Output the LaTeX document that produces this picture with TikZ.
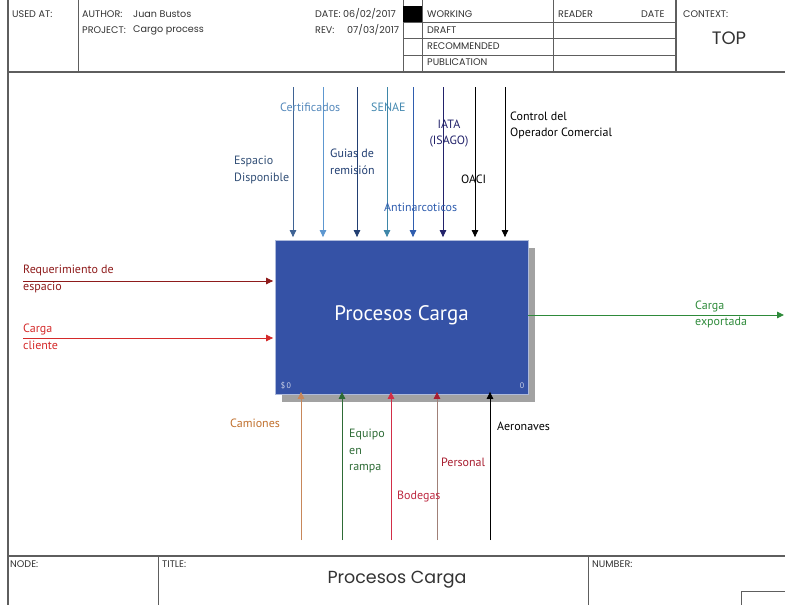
\documentclass[tikz,border=0pt]{standalone}
\usepackage{fontspec}
\setmainfont{PT Sans}
\newfontfamily\formfont{Poppins}
\usetikzlibrary{arrows.meta,shadows}

\definecolor{frame}{HTML}{5E5E5E}
\definecolor{formtext}{HTML}{333333}
\definecolor{procblue}{HTML}{3552A6}
\definecolor{shadowgray}{HTML}{A2A2A2}
% controls (top)
\definecolor{cEsp}{HTML}{3F6394}
\definecolor{cCert}{HTML}{5D97D0}
\definecolor{cGuia}{HTML}{223F72}
\definecolor{cSenae}{HTML}{3E86A8}
\definecolor{cAnti}{HTML}{2F5DAE}
\definecolor{cIata}{HTML}{22226A}
% inputs / outputs
\definecolor{cReq}{HTML}{8E1B1B}
\definecolor{cCli}{HTML}{D42A2A}
\definecolor{cExp}{HTML}{2E8A3A}
% mechanisms (bottom)
\definecolor{cCam}{HTML}{C8875A}
\definecolor{cCamT}{HTML}{C0702E}
\definecolor{cEqu}{HTML}{2E6B36}
\definecolor{cBod}{HTML}{D22E48}
\definecolor{cPerL}{HTML}{A08078}
\definecolor{cPer}{HTML}{A81E30}

\tikzset{
  formline/.style={draw=frame, line width=1.1pt},
  thinline/.style={draw=frame, line width=0.8pt},
  formlbl/.style={font=\formfont\fontsize{9.6}{11}\selectfont, text=formtext, anchor=west, inner sep=0pt},
  footlbl/.style={formlbl, font=\formfont\fontsize{9.6}{11}\selectfont},
  flow/.style={-{Triangle[length=7pt,width=6.5pt]}, line width=0.9pt},
  lbl/.style={font=\fontsize{12}{16.8}\selectfont, anchor=west, align=left, inner sep=0pt},
  procbox/.style={fill=procblue, draw=procblue!40!white, line width=0.8pt,
    minimum width=253pt, minimum height=154pt, inner sep=0pt,
    text=white, font=\fontsize{21}{24}\selectfont,
    drop shadow={shadow xshift=7pt, shadow yshift=-8pt, fill=shadowgray, opacity=1}},
  corner/.style={font=\fontsize{8}{9}\selectfont, text=procblue!25!white, inner sep=0pt}
}

\begin{document}
\begin{tikzpicture}[x=1pt,y=-1pt]
\useasboundingbox (0,0) rectangle (785,605);

% ---------- form frame ----------
\draw[formline] (8,0) -- (8,605);
\draw[formline] (8,72) -- (785,72);
\draw[formline] (8,556) -- (785,556);
\draw[thinline] (78,0) -- (78,72);
\draw[thinline] (403,0) -- (403,72);
\draw[thinline] (422,0) -- (422,72);
\draw[thinline] (553,0) -- (553,72);
\draw[formline] (676,0) -- (676,72);
\draw[thinline] (403,22) -- (676,22);
\draw[thinline] (403,38.5) -- (676,38.5);
\draw[thinline] (403,55) -- (676,55);
\fill[black] (403,6) rectangle (422,22);
\draw[thinline] (158,556) -- (158,605);
\draw[thinline] (588,556) -- (588,605);
\draw[thinline] (741,605) -- (741,591) -- (785,591);

% ---------- header texts ----------
\node[formlbl] (usedat)  at (12,14)  {USED AT:};
\node[formlbl] (author)  at (82,14)  {AUTHOR:};
\node[formlbl] (authorv) at (133,14) {Juan Bustos};
\node[formlbl] (project) at (82,30)  {PROJECT:};
\node[formlbl] (projv)   at (133,30) {Cargo process};
\node[formlbl] (date)    at (315,14) {DATE: 06/02/2017};
\node[formlbl] (rev)     at (315,30) {REV:};
\node[formlbl] (revv)    at (347,30) {07/03/2017};
\node[formlbl] (working) at (427,14) {WORKING};
\node[formlbl] (draft)   at (427,30) {DRAFT};
\node[formlbl] (recom)   at (427,46.5) {RECOMMENDED};
\node[formlbl] (publ)    at (427,62.5) {PUBLICATION};
\node[formlbl] (reader)  at (558,14) {READER};
\node[formlbl] (rdate)   at (641,14) {DATE};
\node[formlbl] (context) at (683,14) {CONTEXT:};
\node[font=\formfont\fontsize{18}{20}\selectfont, text=formtext] (top) at (729,38) {TOP};

% ---------- footer texts ----------
\node[footlbl] (nodelbl)  at (10,564)  {NODE:};
\node[footlbl] (titlelbl) at (162,564) {TITLE:};
\node[footlbl] (numlbl)   at (592,564) {NUMBER:};
\node[font=\formfont\fontsize{17.5}{20}\selectfont, text=formtext] (title) at (397,580) {Procesos Carga};

% ---------- activity box ----------
\node[procbox] (proc) at (401.5,317) {\raisebox{8pt}{Procesos Carga}};
\node[corner] (cost) at (286,386) {\$\,0};
\node[corner] (num)  at (522,386) {0};

% ---------- controls ----------
\coordinate (tEsp)  at (293,87);
\coordinate (tCert) at (323,87);
\coordinate (tGuia) at (357,87);
\coordinate (tSen)  at (387,87);
\coordinate (tAnti) at (413,87);
\coordinate (tIata) at (443,87);
\coordinate (tOaci) at (475,87);
\coordinate (tCtrl) at (505,87);
\draw[flow, cEsp,  shorten >=2.5pt] (tEsp)  -- (tEsp  |- proc.north);
\draw[flow, cCert, shorten >=2.5pt] (tCert) -- (tCert |- proc.north);
\draw[flow, cGuia, shorten >=2.5pt] (tGuia) -- (tGuia |- proc.north);
\draw[flow, cSenae,shorten >=2.5pt] (tSen)  -- (tSen  |- proc.north);
\draw[flow, cAnti, shorten >=2.5pt] (tAnti) -- (tAnti |- proc.north);
\draw[flow, cIata, shorten >=2.5pt] (tIata) -- (tIata |- proc.north);
\draw[flow, black, shorten >=2.5pt] (tOaci) -- (tOaci |- proc.north);
\draw[flow, black, shorten >=2.5pt] (tCtrl) -- (tCtrl |- proc.north);

\node[lbl, text=cCert!90!black] (lCert) at (280,107) {Certificados};
\node[lbl, text=cSenae!80!cCert] (lSen) at (371,107) {SENAE};
\node[lbl, text=cEsp!80!black]  (lEsp)  at (234,170) {Espacio\\Disponible};
\node[lbl, text=cGuia]          (lGuia) at (330,161.5) {Guias de\\remisión};
\node[lbl, text=cIata, anchor=center, align=center] (lIata) at (449,133.5) {IATA\\(ISAGO)};
\node[lbl, text=black]          (lCtrl) at (510,125.5) {Control del\\Operador Comercial};
\node[lbl, text=black]          (lOaci) at (461,179) {OACI};
\node[lbl, text=cAnti]          (lAnti) at (384,207) {Antinarcoticos};

% ---------- inputs ----------
\coordinate (iReq) at (23,281);
\coordinate (iCli) at (23,338);
\draw[flow, cReq, shorten >=1.5pt] (iReq) -- (iReq -| proc.west);
\draw[flow, cCli, shorten >=1.5pt] (iCli) -- (iCli -| proc.west);
\node[lbl, text=cReq] (lReq) at (23,279) {Requerimiento de\\espacio};
\node[lbl, text=cCli] (lCli) at (23,336.5) {Carga\\cliente};

% ---------- output ----------
\coordinate (oExp) at (784,315);
\draw[flow, cExp] (proc.east |- oExp) -- (oExp);
\node[lbl, text=cExp] (lExp) at (695,314.5) {Carga\\exportada};

% ---------- mechanisms ----------
\coordinate (mCam) at (301,540);
\coordinate (mEqu) at (342,540);
\coordinate (mBod) at (391,540);
\coordinate (mPer) at (437,540);
\coordinate (mAer) at (490,540);
\draw[flow, cCam, shorten >=-2.5pt] (mCam) -- (mCam |- proc.south);
\draw[flow, cEqu, shorten >=-2.5pt] (mEqu) -- (mEqu |- proc.south);
\draw[flow, cBod, shorten >=-2.5pt] (mBod) -- (mBod |- proc.south);
\draw[cPerL, line width=0.9pt, -{Triangle[length=7pt,width=6.5pt,color=cPer]}, shorten >=-2.5pt] (mPer) -- (mPer |- proc.south);
\draw[flow, black, shorten >=-2.5pt] (mAer) -- (mAer |- proc.south);

\node[lbl, text=cCamT] (lCam) at (230,423) {Camiones};
\node[lbl, text=cEqu]  (lEqu) at (349,451) {Equipo\\en\\rampa};
\node[lbl, text=cBod!90!black] (lBod) at (397,497) {Bodegas};
\node[lbl, text=cPer]  (lPer) at (441,462) {Personal};
\node[lbl, text=black] (lAer) at (497,426) {Aeronaves};
\end{tikzpicture}
\end{document}
